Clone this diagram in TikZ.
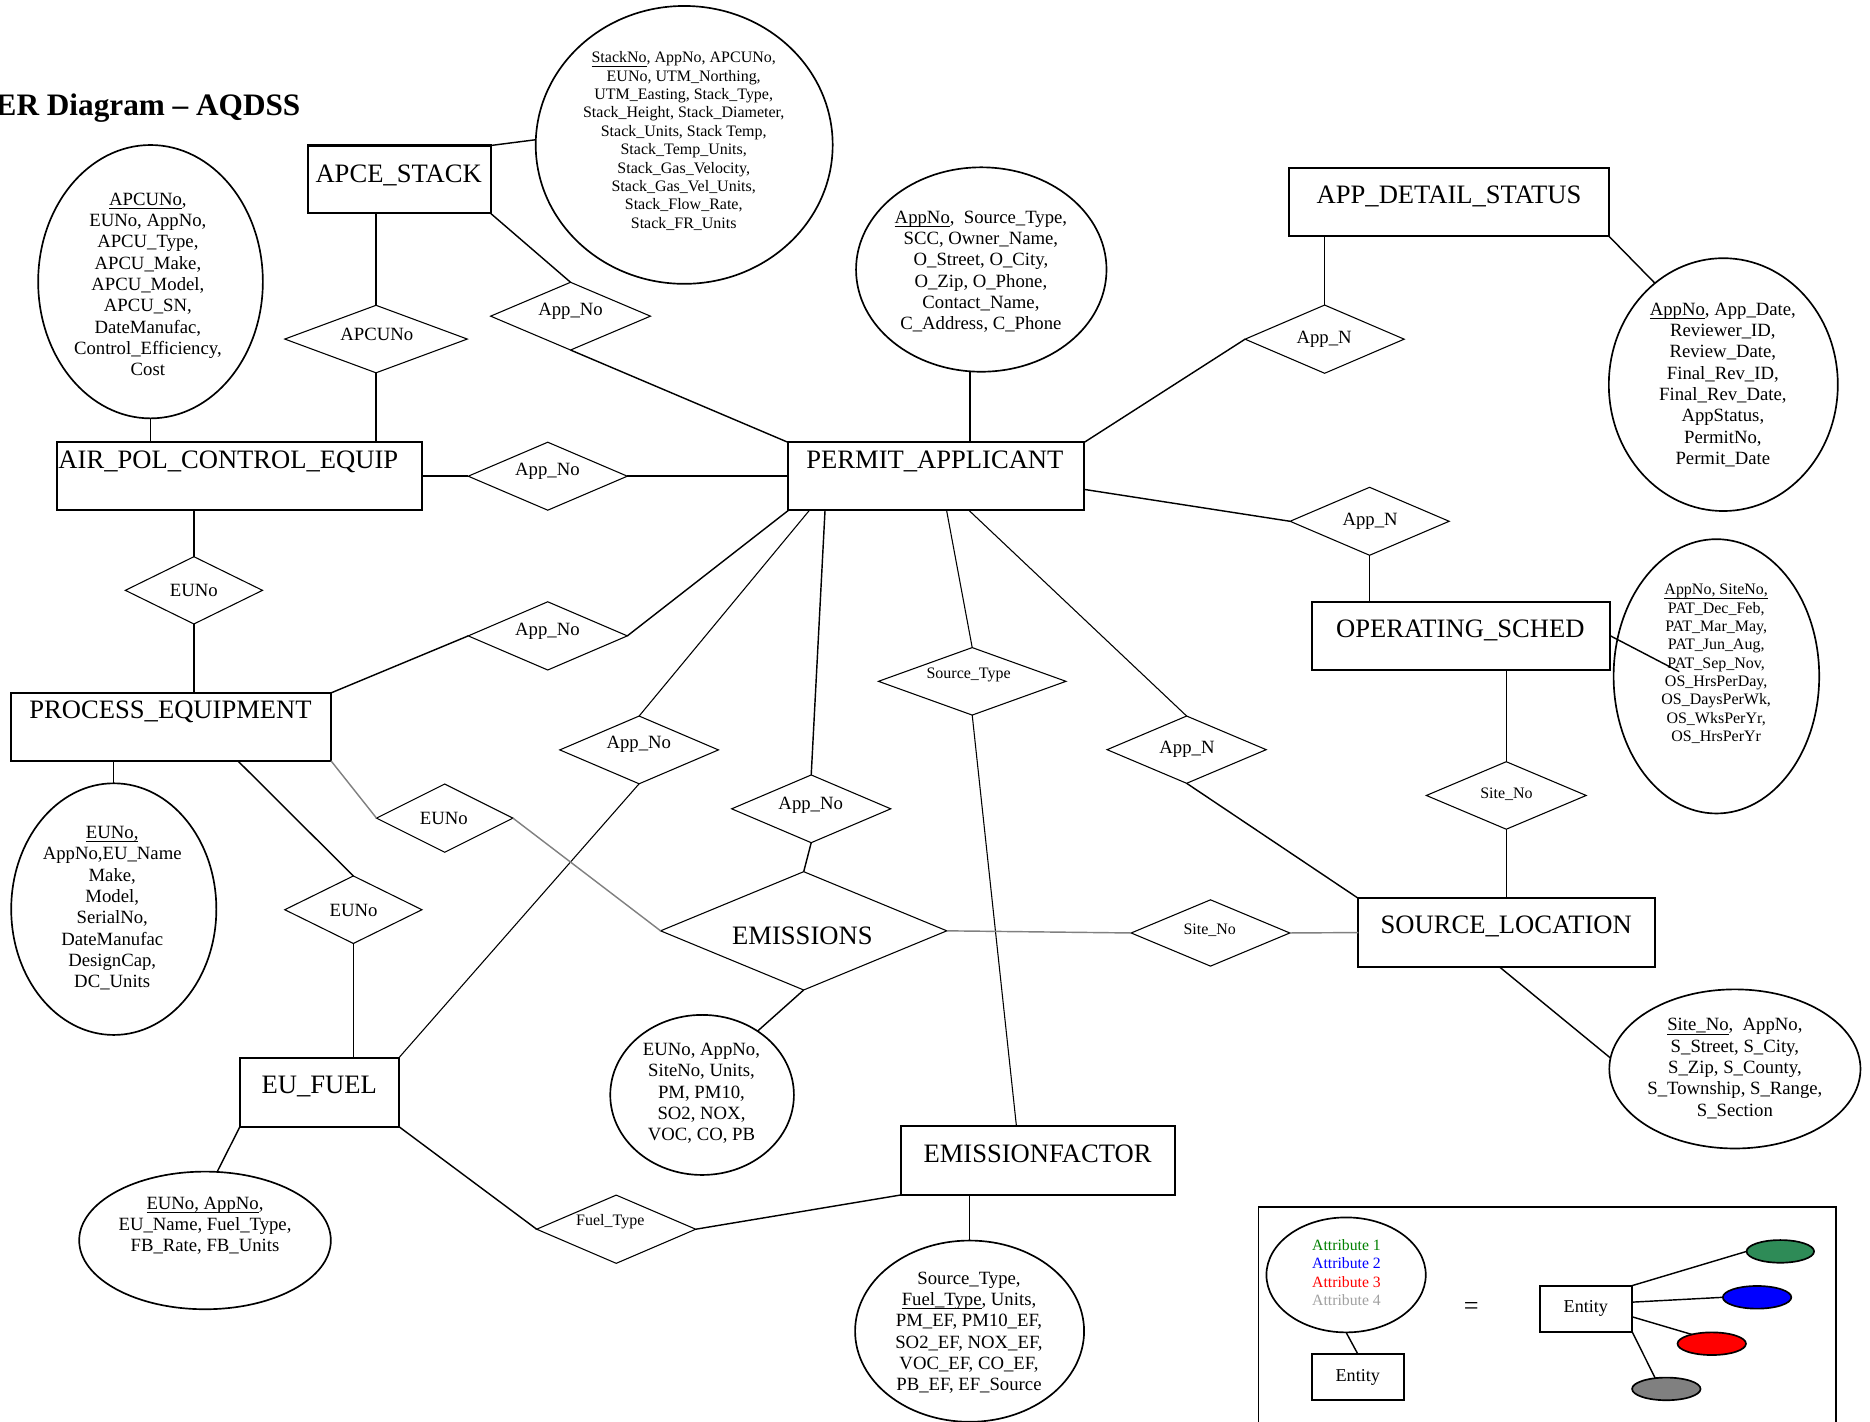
\documentclass[tikz,border=0pt]{standalone}
\usepackage{fontspec}
\setmainfont{Liberation Serif}
\usetikzlibrary{shapes.geometric}
\definecolor{lgreen}{RGB}{0,128,0}
\definecolor{lgrey}{RGB}{160,160,160}
\definecolor{egreen}{RGB}{46,139,87}
\definecolor{cgrey}{RGB}{128,128,128}
\newcommand{\keyul}[1]{\underline{\smash{#1}}\vphantom{#1}}
\begin{document}
\begin{tikzpicture}[x=0.5pt,y=-0.5pt,
  sz/.style 2 args={minimum width=#1*0.5pt, minimum height=#2*0.5pt},
  ent/.style={draw, rectangle, line width=0.85pt, inner sep=0pt, outer sep=0pt},
  rel/.style={draw, diamond, line width=0.45pt, inner sep=0pt, outer sep=0pt},
  attr/.style={draw, ellipse, line width=0.7pt, inner sep=0pt, outer sep=0pt},
  etext/.style={font=\fontsize{11.15pt}{13pt}\selectfont, inner sep=0pt, anchor=base},
  rtext/.style={font=\fontsize{7.85pt}{9pt}\selectfont, inner sep=0pt},
  rstext/.style={font=\fontsize{6.7pt}{8pt}\selectfont, inner sep=0pt},
  atext/.style={font=\fontsize{7.85pt}{8.95pt}\selectfont, align=center, inner sep=0pt},
  astext/.style={font=\fontsize{6.7pt}{7.7pt}\selectfont, align=center, inner sep=0pt},
  conn/.style={line width=0.6pt},
  thinconn/.style={line width=0.45pt},
  greyconn/.style={line width=0.6pt, draw=cgrey}]
\useasboundingbox (0,0) rectangle (1568,1192);

% title
\node[anchor=base west, inner sep=0pt, font=\bfseries\fontsize{13.1pt}{15pt}\selectfont] (title) at (-4,97) {ER Diagram – AQDSS};

% entities
\node[ent, sz={153.5}{57}] (apcestack) at (334.75,150.5) {};
\node[etext] (tApcestack) at (334.3,152.7) {APCE\_STACK};
\node[ent, sz={306.5}{57}] (airpol) at (200.75,399.5) {};
\node[etext] (tAirpol) at (191.5,393.1) {AIR\_POL\_CONTROL\_EQUIP};
\node[ent, sz={248}{57}] (permit) at (785,399.5) {};
\node[etext] (tPermit) at (783.9,393.1) {PERMIT\_APPLICANT};
\node[ent, sz={267.8}{57.4}] (appdetail) at (1215.1,169.3) {};
\node[etext] (tAppdetail) at (1215,170.9) {APP\_DETAIL\_STATUS};
\node[ent, sz={250.3}{57.3}] (opsched) at (1225.15,533.15) {};
\node[etext] (tOpsched) at (1224.5,534.3) {OPERATING\_SCHED};
\node[ent, sz={268.2}{57}] (process) at (143.5,609.5) {};
\node[etext] (tProcess) at (143,602.8) {PROCESS\_EQUIPMENT};
\node[ent, sz={248.4}{57.3}] (sourceloc) at (1263.2,781.95) {};
\node[etext] (tSourceloc) at (1263,783) {SOURCE\_LOCATION};
\node[ent, sz={133.3}{57.8}] (eufuel) at (267.85,915.8) {};
\node[etext] (tEufuel) at (267.7,917.2) {EU\_FUEL};
\node[ent, sz={230.3}{57.9}] (emfactor) at (870.35,973.05) {};
\node[etext] (tEmfactor) at (870,974.4) {EMISSIONFACTOR};

% relationships
\node[rel, sz={153}{56.6}] (rApcu) at (315.3,284.3) {};
\node[rtext] (tApcu) at (316,280.3) {APCUNo};
\node[rel, sz={134}{56.8}] (rApp1) at (478.4,265.1) {};
\node[rtext] (tApp1) at (478.4,261.3) {App\_No};
\node[rel, sz={133.4}{57}] (rApp2) at (459.3,399.3) {};
\node[rtext] (tApp2) at (459,395.5) {App\_No};
\node[rel, sz={115}{56.4}] (rEu1) at (162.6,495) {};
\node[rtext] (tEu1) at (162.6,494.7) {EUNo};
\node[rel, sz={133.4}{57.2}] (rApp3) at (459.3,533.2) {};
\node[rtext] (tApp3) at (459,529.1) {App\_No};
\node[rel, sz={133}{56.8}] (rApp4) at (535.9,628.8) {};
\node[rtext] (tApp4) at (535.6,624.1) {App\_No};
\node[rel, sz={114.4}{57.2}] (rEu2) at (372.9,686) {};
\node[rtext] (tEu2) at (372.2,686) {EUNo};
\node[rel, sz={115}{56.6}] (rEu3) at (296.3,762.8) {};
\node[rtext] (tEu3) at (296.5,763) {EUNo};
\node[rel, sz={133.4}{56.8}] (rApp5) at (680.2,678.2) {};
\node[rtext] (tApp5) at (679.8,675) {App\_No};
\node[rel, sz={240}{99.2}] (rEmis) at (673.9,780.5) {};
\node[rtext, font=\fontsize{11.15pt}{13pt}\selectfont] (tEmis) at (672.8,784.9) {EMISSIONS};
\node[rel, sz={157.2}{56.6}] (rSrc) at (815.2,571.3) {};
\node[rstext] (tSrc) at (812.2,566) {Source\_Type};
\node[rel, sz={133.4}{56.4}] (rAppN1) at (995,628.6) {};
\node[rtext] (tAppN1) at (995.3,628.3) {App\_N};
\node[rel, sz={133.4}{57}] (rAppN2) at (1148.4,437.1) {};
\node[rtext] (tAppN2) at (1148.8,437.4) {App\_N};
\node[rel, sz={133.4}{57.2}] (rAppN3) at (1110.7,284.4) {};
\node[rtext] (tAppN3) at (1110.3,284.5) {App\_N};
\node[rel, sz={134}{56.6}] (rSite1) at (1263,667) {};
\node[rstext] (tSite1) at (1263.2,665.8) {Site\_No};
\node[rel, sz={133}{55.6}] (rSite2) at (1015,782.3) {};
\node[rstext] (tSite2) at (1014.4,780.4) {Site\_No};
\node[rel, sz={133.4}{57.2}] (rFuel) at (516.7,1030.7) {};
\node[rstext] (tFuel) at (511.7,1024.7) {Fuel\_Type};

% attribute ellipses
\node[attr, sz={249}{233}] (eApce) at (573.7,121.5) {};
\node[astext] (tEApce) at (573.3,118.2) {\keyul{StackNo}, AppNo, APCUNo,\\ EUNo, UTM\_Northing,\\ UTM\_Easting, Stack\_Type,\\ Stack\_Height, Stack\_Diameter,\\ Stack\_Units, Stack Temp,\\ Stack\_Temp\_Units,\\ Stack\_Gas\_Velocity,\\ Stack\_Gas\_Vel\_Units,\\ Stack\_Flow\_Rate,\\ Stack\_FR\_Units};
\node[attr, sz={188.4}{229.2}] (eApcu) at (126.2,236.2) {};
\node[atext] (tEApcu) at (124,238.5) {\keyul{APCUNo},\\ EUNo, AppNo,\\ APCU\_Type,\\ APCU\_Make,\\ APCU\_Model,\\ APCU\_SN,\\ DateManufac,\\ Control\_Efficiency,\\ Cost};
\node[attr, sz={210}{171.4}] (ePermit) at (822.8,226) {};
\node[atext] (tEPermit) at (822.5,227.8) {\keyul{AppNo},\ \ Source\_Type,\\ SCC, Owner\_Name,\\ O\_Street, O\_City,\\ O\_Zip, O\_Phone,\\ Contact\_Name,\\ C\_Address, C\_Phone};
\node[attr, sz={192}{212}] (eAppd) at (1445,322.5) {};
\node[atext] (tEAppd) at (1444.6,322.8) {\keyul{AppNo}, App\_Date,\\ Reviewer\_ID,\\ Review\_Date,\\ Final\_Rev\_ID,\\ Final\_Rev\_Date,\\ AppStatus,\\ PermitNo,\\ Permit\_Date};
\node[attr, sz={172.4}{230}] (eOps) at (1439.2,567.1) {};
\node[astext] (tEOps) at (1439,556.7) {\keyul{AppNo, SiteNo,}\\ PAT\_Dec\_Feb,\\ PAT\_Mar\_May,\\ PAT\_Jun\_Aug,\\ PAT\_Sep\_Nov,\\ OS\_HrsPerDay,\\ OS\_DaysPerWk,\\ OS\_WksPerYr,\\ OS\_HrsPerYr};
\node[attr, sz={172}{211}] (eProc) at (95.4,762.3) {};
\node[atext] (tEProc) at (94.1,761.5) {\keyul{EUNo,}\\ AppNo,EU\_Name\\ Make,\\ Model,\\ SerialNo,\\ DateManufac\\ DesignCap,\\ DC\_Units};
\node[attr, sz={154}{134.2}] (eEmis) at (588.7,918.1) {};
\node[atext] (tEEmis) at (588.2,916.9) {EUNo, AppNo,\\ SiteNo, Units,\\ PM, PM10,\\ SO2, NOX,\\ VOC, CO, PB};
\node[attr, sz={211}{115.4}] (eEuf) at (171.9,1040.1) {};
\node[atext] (tEEuf) at (171.9,1027.8) {\keyul{EUNo, AppNo},\\ EU\_Name, Fuel\_Type,\\ FB\_Rate, FB\_Units};
\node[attr, sz={192}{152}] (eEmf) at (813,1116.2) {};
\node[atext] (tEEmf) at (812.5,1117.5) {Source\_Type,\\ \keyul{Fuel\_Type}, Units,\\ PM\_EF, PM10\_EF,\\ SO2\_EF, NOX\_EF,\\ VOC\_EF, CO\_EF,\\ PB\_EF, EF\_Source};
\node[attr, sz={210.6}{133.4}] (eSrc) at (1454.7,896.3) {};
\node[atext] (tESrc) at (1454.7,895.9) {\keyul{Site\_No},\ \ AppNo,\\ S\_Street, S\_City,\\ S\_Zip, S\_County,\\ S\_Township, S\_Range,\\ S\_Section};
\coordinate (opsTip) at (1408,563.2);

% connectors
\draw[conn] (apcestack.north east) -- (eApce.178);
\draw[conn] (apcestack.south east) -- (rApp1.north);
\draw[conn] (rApp1.south) -- (permit.north west);
\draw[conn] (rApcu.north) -- (rApcu.north |- apcestack.south);
\draw[conn] (rApcu.south) -- (rApcu.south |- airpol.north);
\draw[conn] (eApcu.south) -- (eApcu.south |- airpol.north);
\draw[conn] (airpol.east |- rApp2.west) -- (rApp2.west);
\draw[conn] (rApp2.east) -- (permit.west |- rApp2.east);
\draw[conn] (rEu1.north |- airpol.south) -- (rEu1.north);
\draw[conn] (rEu1.south) -- (rEu1.south |- process.north);
\draw[conn] (process.north east) -- (rApp3.west);
\draw[conn] (rApp3.east) -- (permit.south west);
\draw[thinconn] (permit.195) -- (rApp4.north);
\draw[thinconn] (rApp4.south) -- (eufuel.north east);
\draw[greyconn] (process.south east) -- (rEu2.west);
\draw[greyconn] (rEu2.east) -- (rEmis.west);
\draw[conn] (process.333.6) -- (rEu3.north);
\draw[conn] (rEu3.south) -- (rEu3.south |- eufuel.north);
\draw[conn] (eProc.north |- process.south) -- (eProc.north);
\draw[conn] (eufuel.south west) -- (eEuf.80);
\draw[conn] (eufuel.south east) -- (rFuel.west);
\draw[conn] (rFuel.east) -- (emfactor.south west);
\draw[conn] (eEmf.north |- emfactor.south) -- (eEmf.north);
\draw[conn] (rEmis.south) -- (eEmis.49);
\draw[conn] (rEmis.north) -- (rApp5.south);
\draw[conn] (rApp5.north) -- (permit.197.3);
\draw[thinconn] (permit.287.5) -- (rSrc.north);
\draw[thinconn] (rSrc.south) -- (emfactor.122.6);
\draw[thinconn] (permit.314.3) -- (rAppN1.north);
\draw[conn] (rAppN1.south) -- (sourceloc.north west);
\draw[conn] (permit.355.4) -- (rAppN2.west);
\draw[thinconn] (rAppN2.south) -- (rAppN2.south |- opsched.north);
\draw[conn] (permit.north east) -- (rAppN3.west);
\draw[thinconn] (rAppN3.north) -- (rAppN3.north |- appdetail.south);
\draw[conn] (appdetail.south east) -- (eAppd.124);
\draw[conn] (permit.45.1) -- (permit.45.1 |- ePermit.south);
\draw[conn] (opsched.east) -- (opsTip);
\draw[thinconn] (rSite1.north |- opsched.south) -- (rSite1.north);
\draw[thinconn] (rSite1.south) -- (rSite1.south |- sourceloc.north);
\draw[greyconn] (rEmis.east) -- (rSite2.west);
\draw[greyconn] (rSite2.east) -- (sourceloc.west);
\draw[conn] (sourceloc.258.2) -- (eSrc.175);

% legend
\node[draw, line width=0.75pt, sz={483.9}{220}, anchor=north west, inner sep=0pt, outer sep=0pt] (legend) at (1055.3,1011.8) {};
\node[attr, sz={133.6}{96.4}] (eLeg) at (1128.7,1069) {};
\node[font=\fontsize{6.6pt}{7.65pt}\selectfont, align=center, inner sep=0pt] (tLeg) at (1129,1067) {\textcolor{lgreen}{Attribute 1}\\ \textcolor{blue}{Attribute 2}\\ \textcolor{red}{Attribute 3}\\ \textcolor{lgrey}{Attribute 4}};
\node[ent, line width=0.75pt, sz={77}{38.6}] (lEnt1) at (1138.5,1154.6) {};
\node[font=\fontsize{7.6pt}{9pt}\selectfont, inner sep=0pt] (tLEnt1) at (1138.5,1154.6) {Entity};
\draw[conn] (eLeg.south) -- (lEnt1.north);
\node[font=\fontsize{11pt}{13pt}\selectfont, inner sep=0pt] (eqsign) at (1233.7,1097) {=};
\node[ent, line width=0.75pt, sz={77.5}{38.6}] (lEnt2) at (1329.75,1097.3) {};
\node[font=\fontsize{7.6pt}{9pt}\selectfont, inner sep=0pt] (tLEnt2) at (1329.75,1097.3) {Entity};
\node[attr, fill=egreen, sz={56.6}{19}] (lG) at (1492.8,1049.3) {};
\node[attr, fill=blue, sz={57.4}{19}] (lB) at (1473.3,1087.8) {};
\node[attr, fill=red, sz={57.4}{19}] (lR) at (1435.3,1126.7) {};
\node[attr, fill=cgrey, sz={57.4}{19}] (lGr) at (1397.2,1164.6) {};
\draw[conn] (lEnt2.north east) -- (lG.west);
\draw[conn] (lEnt2.8.5) -- (lB.west);
\draw[conn] (lEnt2.350.2) -- (lR.155);
\draw[conn] (lEnt2.south east) -- (lGr.136);
\end{tikzpicture}
\end{document}
